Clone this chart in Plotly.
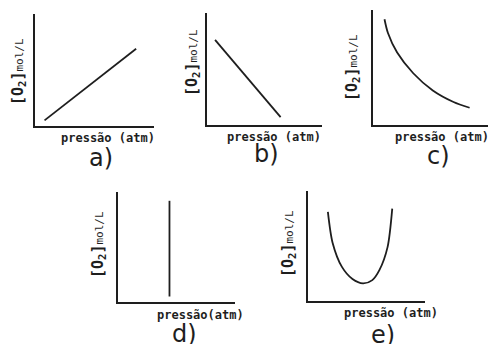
#five small sketches of [O2] vs pressure, labelled a) to e)
import plotly.graph_objects as go

W, H = 491, 344

#curve values (each axis runs 0..10)
a_x = [0.8, 8.5]
a_y = [0.5, 6.9]
b_x = [0.7, 6.4]
b_y = [7.6, 0.7]
c_x = [1.0, 1.3, 2.1, 3.5, 5.2, 7.0, 8.4]
c_y = [9.2, 8.0, 6.3, 4.5, 3.0, 2.0, 1.5]
d_x = [4.4, 4.4]
d_y = [0.5, 9.2]
e_x = [1.7, 2.1, 2.9, 3.8, 4.7, 5.5, 6.1, 6.8, 7.2]
e_y = [8.1, 5.3, 3.1, 2.0, 1.6, 1.9, 2.8, 4.9, 8.4]

panel_names = ['a)', 'b)', 'c)', 'd)', 'e)']
x_titles = ['pressão (atm)', 'pressão (atm)', 'pressão (atm)', 'pressão(atm)', 'pressão (atm)']
y_title = '<b>[O<sub>2</sub>]</b><span style="font-size:11px">mol/L</span>'

#pixel boxes of each little plot: left, right, top, bottom
boxes = [(35, 154, 14, 126), (207, 322, 13, 125), (373, 488, 10, 125),
         (118, 235, 192, 302), (308, 425, 191, 301)]
#where the texts sit (pixel centres)
ylab_pos = [(18, 72), (192, 63), (352, 68), (98, 245), (288, 244)]
xlab_pos = [(108, 138), (274, 137), (442, 137), (200, 315), (391, 313)]
name_pos = [(101, 158), (266, 154), (438, 156), (184, 334), (383, 335)]

ink = '#1e1e1e'
series = [(a_x, a_y, 'linear'), (b_x, b_y, 'linear'), (c_x, c_y, 'spline'),
          (d_x, d_y, 'linear'), (e_x, e_y, 'spline')]

fig = go.Figure()
annotations = []
for i, (xs, ys, shape) in enumerate(series):
    n = '' if i == 0 else str(i + 1)
    fig.add_trace(go.Scatter(x=xs, y=ys, mode='lines', xaxis='x' + n, yaxis='y' + n,
                             line=dict(color=ink, width=1.8, shape=shape, smoothing=0.8),
                             showlegend=False, hoverinfo='skip'))
    l, r, t, b = boxes[i]
    common = dict(range=[0, 10], showgrid=False, zeroline=False, showticklabels=False,
                  ticks='', showline=True, linecolor=ink, linewidth=2.2, fixedrange=True)
    fig.update_layout(**{
        'xaxis' + n: dict(domain=[l / W, r / W], anchor='y' + n, **common),
        'yaxis' + n: dict(domain=[1 - b / H, 1 - t / H], anchor='x' + n, **common),
    })
    centre = dict(xref='paper', yref='paper', xanchor='center', yanchor='middle', showarrow=False)
    px_, py_ = ylab_pos[i]
    annotations.append(dict(x=px_ / W, y=1 - py_ / H, text=y_title, textangle=-90,
                            font=dict(family='DejaVu Sans Mono', size=15, color=ink), **centre))
    px_, py_ = xlab_pos[i]
    annotations.append(dict(x=px_ / W, y=1 - py_ / H, text='<b>' + x_titles[i] + '</b>',
                            font=dict(family='DejaVu Sans Mono', size=12, color=ink), **centre))
    px_, py_ = name_pos[i]
    annotations.append(dict(x=px_ / W, y=1 - py_ / H, text=panel_names[i],
                            font=dict(family='DejaVu Sans', size=24, color=ink), **centre))

fig.update_layout(width=W, height=H, margin=dict(l=0, r=0, t=0, b=0),
                  paper_bgcolor='white', plot_bgcolor='white', annotations=annotations)

#browser puts an 8px margin round the body, drop it so the figure fills the window
fig.write_html("out.html", config={'displayModeBar': False},
               post_script="document.body.style.margin='0';")
